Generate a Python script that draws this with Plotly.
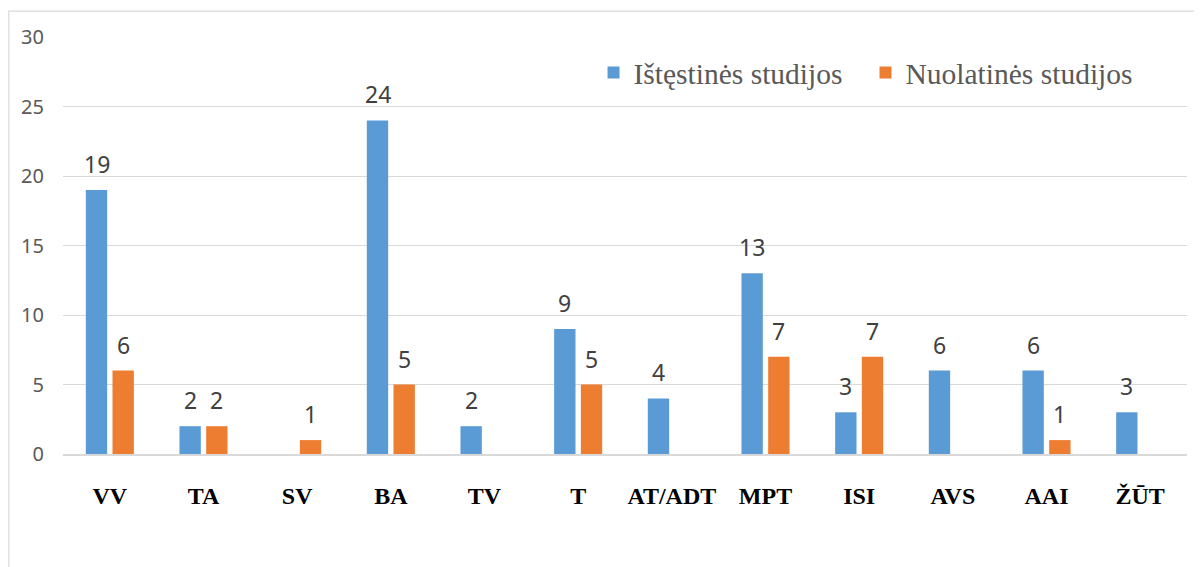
import plotly.graph_objects as go

categories = ["VV", "TA", "SV", "BA", "TV", "T", "AT/ADT", "MPT", "ISI", "AVS", "AAI", "ŽŪT"]
isteestines = [19, 2, None, 24, 2, 9, 4, 13, 3, 6, 6, 3]
nuolatines = [6, 2, 1, 5, None, 5, None, 7, 7, None, 1, None]
series_names = ["Ištęstinės studijos", "Nuolatinės studijos"]
colors = ["#5B9BD5", "#ED7D31"]
y_ticks = [0, 5, 10, 15, 20, 25, 30]

fig = go.Figure()
for name, vals, col in zip(series_names, [isteestines, nuolatines], colors):
    fig.add_trace(go.Bar(x=categories, y=vals, name=name, marker_color=col,
                         marker_line_width=0))

# data labels
slot_shift = 13.3
for shift, vals in zip([-slot_shift, slot_shift], [isteestines, nuolatines]):
    for c, v in zip(categories, vals):
        if v is None:
            continue
        fig.add_annotation(x=c, y=v, xref="x", yref="y", text=str(v), showarrow=False,
                           xshift=shift, yshift=8, yanchor="bottom",
                           font=dict(family="Noto Sans", size=23, color="#404040"))

fig.add_shape(type="rect", xref="paper", yref="paper", x0=-0.0482, x1=1.2, y0=-0.6, y1=1.062,
              line=dict(color="#D9D9D9", width=1.2), fillcolor="rgba(0,0,0,0)", layer="below")

fig.update_layout(
    width=1202, height=567,
    margin=dict(l=55, r=23, t=29, b=121),
    paper_bgcolor="white", plot_bgcolor="white",
    barmode="group", bargap=0.43, bargroupgap=0.2,
    showlegend=True,
    legend=dict(orientation="h", x=0.472, y=0.914, xanchor="left", yanchor="middle",
                font=dict(family="Liberation Serif", size=29.5, color="#595959"),
                entrywidth=227, entrywidthmode="pixels",
                bgcolor="rgba(0,0,0,0)", itemclick=False),
    xaxis=dict(showgrid=False, showline=True, linecolor="#D9D9D9", linewidth=1.5,
               ticks="", tickfont=dict(family="Liberation Serif", size=24, color="#000000", weight="bold"),
               ticklabelstandoff=19),
    yaxis=dict(range=[0, 30], tickvals=y_ticks, showgrid=True, gridcolor="#D9D9D9", gridwidth=1.2,
               zeroline=False, showline=False, ticks="",
               tickfont=dict(family="Noto Sans", size=20, color="#595959"),
               ticklabelstandoff=18),
)

fig.write_html("out.html")
